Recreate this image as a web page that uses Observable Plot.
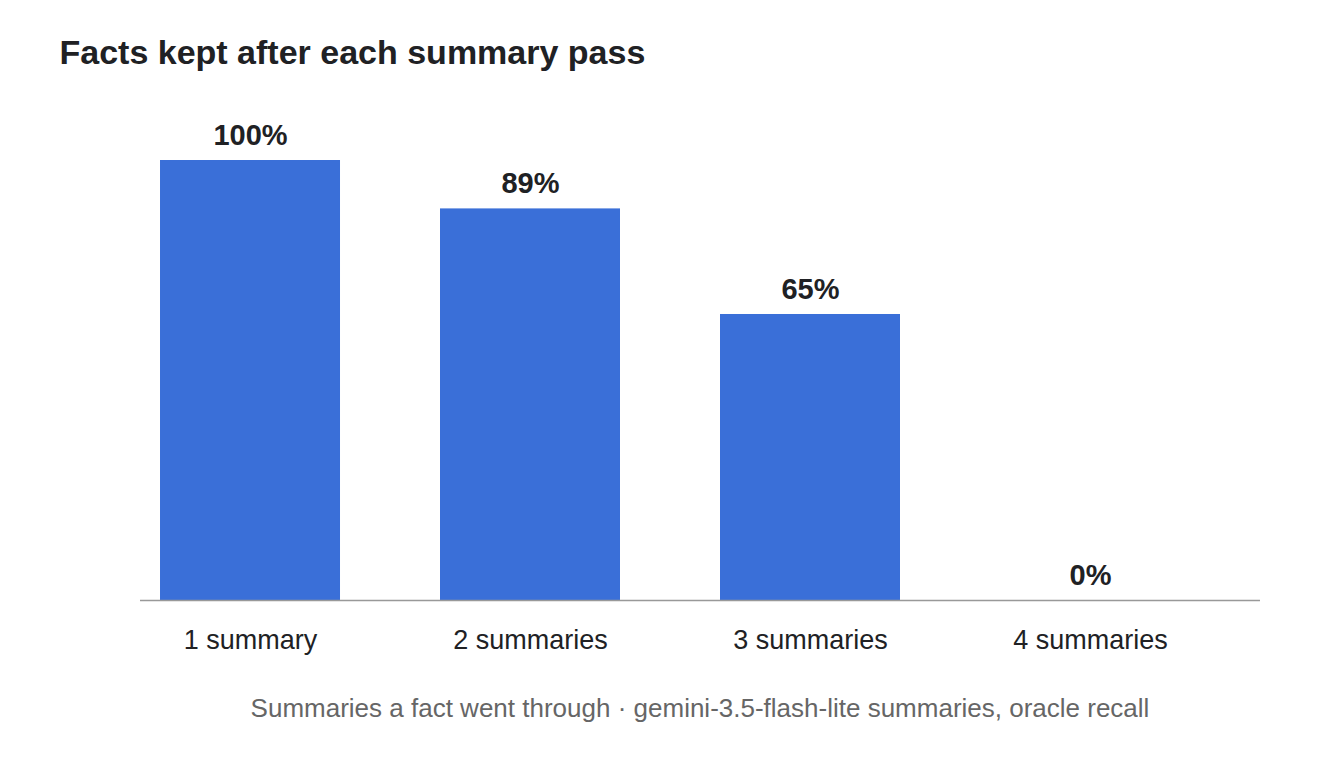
<!DOCTYPE html>
<html>
<head>
<meta charset="utf-8">
<script src="https://cdn.jsdelivr.net/npm/d3@7"></script>
<script src="https://cdn.jsdelivr.net/npm/@observablehq/plot@0.6"></script>
<style>
  html, body { margin: 0; padding: 0; background: #fff; }
  body { width: 1320px; height: 760px; overflow: hidden; font-family: "Liberation Sans", Arial, Helvetica, sans-serif; }
  #title { box-sizing: content-box; margin: 0; padding: 34.5px 0 0 59.5px; height: 45.5px;
           font: bold 34px/34px "Liberation Sans", Arial, sans-serif; color: #202124; white-space: nowrap; }
  #chart svg { display: block; }
  #caption { box-sizing: border-box; width: 1320px; padding: 0 60px 0 140px; text-align: center;
             font: 26px/26px "Liberation Sans", Arial, sans-serif; color: #666; white-space: nowrap; }
</style>
</head>
<body>
<div id="title">Facts kept after each summary pass</div>
<div id="chart"></div>
<div id="caption">Summaries a fact went through · gemini-3.5-flash-lite summaries, oracle recall</div>
<script>
const categories = ["1 summary", "2 summaries", "3 summaries", "4 summaries"];
const keptPercent = [100, 89, 65, 0];

const data = categories.map((c, i) => ({category: c, value: keptPercent[i]}));

const chart = Plot.plot({
  width: 1320,
  height: 614.7,
  marginTop: 80,
  marginBottom: 94.7,
  marginLeft: 140,
  marginRight: 60,
  style: {fontFamily: "'Liberation Sans', Arial, Helvetica, sans-serif", background: "#fff", color: "#202124"},
  x: {domain: categories, paddingInner: 100 / 280, paddingOuter: 50 / 280, align: 0.2, label: null},
  y: {domain: [0, 100], axis: null},
  marks: [
    Plot.barY(data, {x: "category", y: "value", fill: "#3a6fd8"}),
    Plot.ruleY([0], {stroke: "#999", strokeWidth: 1.5}),
    Plot.text(data, {
      x: "category", y: "value", text: d => d.value + "%",
      lineAnchor: "bottom", dy: -15.7, fontSize: 29, fontWeight: "bold", fill: "#202124"
    }),
    Plot.axisX({tickSize: 0, tickPadding: 29, fontSize: 27, label: null, fill: "#202124"})
  ]
});
document.getElementById("chart").appendChild(chart);
</script>
</body>
</html>
